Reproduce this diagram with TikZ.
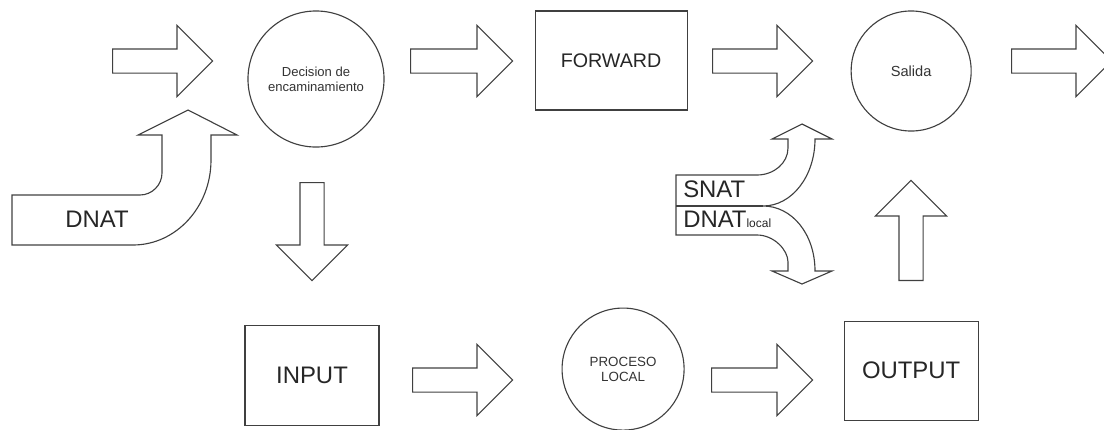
\documentclass[tikz,border=0pt]{standalone}
\usepackage{fontspec}
\setmainfont{Liberation Sans}
\usetikzlibrary{shapes.arrows}
\usetikzlibrary{positioning}
\tikzset{
    caja/.style={
           rectangle,
           draw=black!75, line width=0.8pt,
           text=black!85,
           inner sep=2pt,
           text centered,
           },
    bola/.style={
           circle,
           draw=black!75, line width=0.8pt,
           text=black!80,
           align=center,
           inner sep=0pt,
           },
    flecha/.style={
           single arrow,
           draw=black!75, line width=0.8pt,
           minimum height=2.5cm,
           minimum width=1.75cm,
           single arrow head extend=0.5875cm,
           inner sep=0.2875cm,
           anchor=tail,
           },
    curva/.style={
           draw=black!75, line width=0.8pt,
           line join=miter,
           },
}

\begin{document}
\begin{tikzpicture}[x=0.025cm,y=-0.025cm]
        \useasboundingbox (0,0) rectangle (1104,429);

        % DECISION: first circle, everything else placed from here
        \node[bola,
            minimum size=3.4cm,
            font=\fontsize{9.3}{10.7}\selectfont
            ] (N_DECISION) at (316,79)
        {Decision de\\encaminamiento};

        % FORWARD box, to the right of DECISION
        \node[caja,
            minimum width=3.8cm,
            minimum height=2.475cm,
            right of=N_DECISION,
            node distance=7.375cm,
            yshift=0.4625cm,
            anchor=center,
            font=\fontsize{14}{16}\selectfont
            ] (N_FORWARD)
        {FORWARD};

        % SALIDA circle
        \node[bola,
            minimum size=3cm,
            right of=N_FORWARD,
            node distance=7.5cm,
            yshift=-0.2625cm,
            anchor=center,
            font=\fontsize{10.4}{12}\selectfont
            ] (N_SALIDA)
        {Salida};

        % INPUT box, below DECISION
        \node[caja,
            minimum width=3.35cm,
            minimum height=2.5cm,
            below of=N_DECISION,
            node distance=7.4cm,
            xshift=-0.1cm,
            anchor=center,
            font=\fontsize{17}{20}\selectfont
            ] (N_INPUT)
        {INPUT};

        % PROCESO LOCAL circle
        \node[bola,
            minimum size=3.05cm,
            right of=N_INPUT,
            node distance=7.775cm,
            yshift=0.15cm,
            anchor=center,
            font=\fontsize{9.5}{10.5}\selectfont
            ] (N_PROCESO)
        {PROCESO\\LOCAL};

        % OUTPUT box
        \node[caja,
            minimum width=3.35cm,
            minimum height=2.475cm,
            right of=N_PROCESO,
            node distance=7.2cm,
            yshift=-0.0375cm,
            anchor=center,
            font=\fontsize{17}{20}\selectfont
            ] (N_OUTPUT)
        {OUTPUT};

        % straight block arrows between the states (placed by their tail)
        \node[flecha] (F_ENTRADA) at (112,61) {};
        \node[flecha, minimum height=2.55cm] (F_FORWARD) at (410,61) {};
        \node[flecha] (F_SALIDA) at (712,61) {};
        \node[flecha] (F_FUERA) at (1011,61) {};
        \node[flecha, shape border rotate=270, minimum height=2.45cm] (F_INPUT) at (312,182) {};
        \node[flecha] (F_PROCESO) at (412,380) {};
        \node[flecha, minimum height=2.525cm] (F_OUTPUT) at (711,380) {};
        \node[flecha, shape border rotate=90] (F_SUBIDA) at (911,281) {};

        % DNAT: bent arrow coming up into DECISION
        \draw[curva] (12,195) -- (140,195)
            .. controls (152,195) and (162,185) .. (162,173)
            -- (162,135) -- (138,135) -- (188,110) -- (237,135) -- (211,135) -- (211,160)
            .. controls (211,207) and (176,245) .. (133,245)
            -- (12,245) -- cycle;
        \node[anchor=base, font=\fontsize{17}{20}\selectfont, text=black!85] (T_DNAT) at (97,227) {DNAT};

        % SNAT / DNAT local: forked arrow, up to SALIDA and down to OUTPUT
        \draw[curva] (676,175) -- (757,175)
            .. controls (774,175) and (788,163) .. (788,148)
            -- (788,139) -- (772,139) -- (802,124) -- (832,139) -- (815,139)
            .. controls (815,176) and (792,206) .. (763,206)
            .. controls (792,206) and (815,234) .. (815,271)
            -- (832,271) -- (802,284) -- (772,271) -- (788,271) -- (788,262)
            .. controls (788,250) and (774,235) .. (757,235)
            -- (676,235) -- cycle;
        \draw[curva] (676,206) -- (763,206);
        \node[anchor=base west, inner sep=0pt, font=\fontsize{17}{20}\selectfont, text=black!85] (T_SNAT) at (683,197) {SNAT};
        \node[anchor=base west, inner sep=0pt, font=\fontsize{17}{20}\selectfont, text=black!85] (T_DNATL) at (683,227)
        {DNAT{\fontsize{8.5}{9}\selectfont local}};

\end{tikzpicture}
\end{document}
